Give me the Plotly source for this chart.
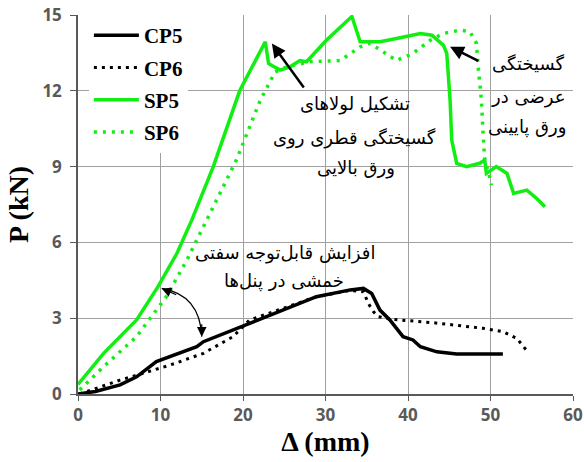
import plotly.graph_objects as go

# ---- data ----
cp5_x = [0, 2.1, 5.1, 7.1, 9.5, 12.4, 14.4, 15.2, 20.8, 24.9, 28.9, 33.0, 34.6, 35.6, 36.6, 37.8, 38.6, 39.4, 40.6, 41.5, 43.5, 45.9, 49.1, 51.5]
cp5_y = [0, 0.1, 0.36, 0.68, 1.28, 1.62, 1.87, 2.07, 2.8, 3.32, 3.85, 4.12, 4.18, 3.98, 3.32, 2.93, 2.6, 2.27, 2.14, 1.87, 1.67, 1.58, 1.58, 1.58]

cp6_x = [0.2, 2.7, 5.1, 7.9, 11.2, 15.2, 18.8, 20.8, 24.9, 28.9, 33.0, 34.6, 35.2, 35.8, 36.4, 38.2, 43.1, 49.1, 51.5, 53.2, 54.6]
cp6_y = [0, 0.29, 0.55, 0.82, 1.15, 1.61, 2.27, 2.93, 3.4, 3.85, 4.1, 4.05, 3.58, 3.26, 3.06, 2.95, 2.82, 2.6, 2.47, 2.2, 1.63]

sp5_x = [0, 3.1, 7.1, 9.7, 12.0, 13.8, 16.4, 19.6, 22.7, 23.1, 23.5, 24.5, 25.7, 26.9, 27.7, 30.1, 33.2, 34.2, 35.8, 36.6, 38.6, 41.5, 42.9, 44.3, 44.7, 45.1, 45.3, 45.9, 47.1, 48.7, 49.3, 49.5, 50.7, 52.0, 52.8, 54.4, 55.6, 56.6]
sp5_y = [0.38, 1.61, 2.93, 4.25, 5.57, 6.89, 9.0, 12.0, 13.94, 13.08, 13.0, 12.82, 12.95, 13.2, 13.15, 14.0, 14.94, 13.94, 13.94, 13.94, 14.07, 14.27, 14.2, 13.8, 13.48, 11.63, 10.05, 9.13, 9.0, 9.13, 9.26, 8.73, 9.0, 8.73, 7.94, 8.07, 7.74, 7.41]

sp6_x = [0.2, 3.1, 7.1, 10.7, 13.2, 15.6, 19.2, 22.1, 23.9, 25.3, 28.1, 31.8, 34.2, 35.4, 38.6, 40.6, 42.7, 44.3, 46.3, 47.5, 48.3, 48.5, 48.9, 49.1, 49.3, 49.8, 50.1]
sp6_y = [0.16, 1.08, 2.27, 3.85, 5.3, 6.89, 9.26, 11.63, 12.75, 12.95, 13.15, 13.2, 13.74, 13.88, 13.2, 13.48, 14.0, 14.27, 14.4, 14.34, 13.88, 12.95, 11.63, 10.31, 9.26, 8.73, 8.27]

x_ticks = [0, 10, 20, 30, 40, 50, 60]
y_ticks = [0, 3, 6, 9, 12, 15]

GREEN = "#11ee11"

fig = go.Figure()
series = [
    ("CP5", cp5_x, cp5_y, "black", "solid", 3.5),
    ("CP6", cp6_x, cp6_y, "black", "3px,5px", 3),
    ("SP5", sp5_x, sp5_y, GREEN, "solid", 3.5),
    ("SP6", sp6_x, sp6_y, GREEN, "3px,6px", 3.5),
]
for name, xs, ys, col, dash, w in series:
    fig.add_trace(go.Scatter(x=xs, y=ys, mode="lines", name=name, legendgroup=name,
                             line=dict(color=col, dash=dash, width=w)))

PFONT = dict(family="DejaVu Sans", size=18, color="black")

def label(text, x, y):
    fig.add_annotation(x=x, y=y, xref="x", yref="y", text=text, showarrow=False,
                       font=PFONT, xanchor="center", yanchor="middle")

label("تشکیل لولاهای", 33.6, 11.48)
label("گسیختگی قطری روی", 33.5, 10.13)
label("ورق بالایی", 33.7, 8.94)
label("گسیختگی", 54.5, 13.1)
label("عرضی در", 54.5, 11.75)
label("ورق پایینی", 54.4, 10.57)
label("افزایش قابل‌توجه سفتی", 25.1, 5.58)
label("خمشی در پنل‌ها", 25.0, 4.47)

# straight arrows
for hx, hy, tx, ty in [(23.5, 13.87, 27.5, 12.07), (45.1, 13.74, 48.7, 13.15)]:
    fig.add_annotation(x=hx, y=hy, ax=tx, ay=ty, xref="x", yref="y", axref="x", ayref="y",
                       text="", showarrow=True, arrowhead=2, arrowsize=1.1, arrowwidth=2.5,
                       arrowcolor="black", standoff=0)

# curved double arrow
fig.add_shape(type="path", xref="x", yref="y",
              path="M 10.15,4.18 Q 14.79,3.92 15.0,2.27",
              line=dict(color="black", width=1.2))
fig.add_annotation(x=10.15, y=4.18, ax=16, ay=7, xref="x", yref="y", text="", showarrow=True,
                   arrowhead=2, arrowsize=1.6, arrowwidth=1.2, arrowcolor="black", standoff=0)
fig.add_annotation(x=15.0, y=2.27, ax=0, ay=-14, xref="x", yref="y", text="", showarrow=True,
                   arrowhead=2, arrowsize=1.6, arrowwidth=1.2, arrowcolor="black", standoff=0)

TICKFONT = dict(family="Open Sans", size=17, color="#595959", weight="bold")
TITLEFONT = dict(family="Liberation Serif", size=28, color="black", weight="bold")
fig.update_xaxes(range=[0, 60], tickvals=x_ticks, showgrid=True, gridcolor="#a0a0a0", gridwidth=1,
                 showline=True, linecolor="#595959", linewidth=1.5, ticks="outside", ticklen=5,
                 tickcolor="#595959", tickfont=TICKFONT, zeroline=False, automargin=False,
                 title=dict(text="Δ (mm)", standoff=1, font=TITLEFONT))
fig.update_yaxes(range=[0, 15], tickvals=y_ticks, showgrid=True, gridcolor="#a0a0a0", gridwidth=1,
                 showline=True, linecolor="#595959", linewidth=1.5, ticks="outside", ticklen=6,
                 tickcolor="#595959", tickfont=TICKFONT, zeroline=False, ticklabelstandoff=5,
                 automargin=False,
                 title=dict(text="P (kN)", standoff=6, font=TITLEFONT))

fig.update_layout(
    width=584, height=462,
    margin=dict(l=78, r=11, t=15, b=68, autoexpand=False),
    plot_bgcolor="white", paper_bgcolor="white",
    legend=dict(x=0.022, y=1.0, xanchor="left", yanchor="top", bgcolor="white",
                font=dict(family="Liberation Serif", size=21, color="black", weight="bold"),
                traceorder="grouped", tracegroupgap=2, itemwidth=45),
)

fig.write_html("out.html", post_script="document.body.style.margin='0';",
               config={"displayModeBar": False})
